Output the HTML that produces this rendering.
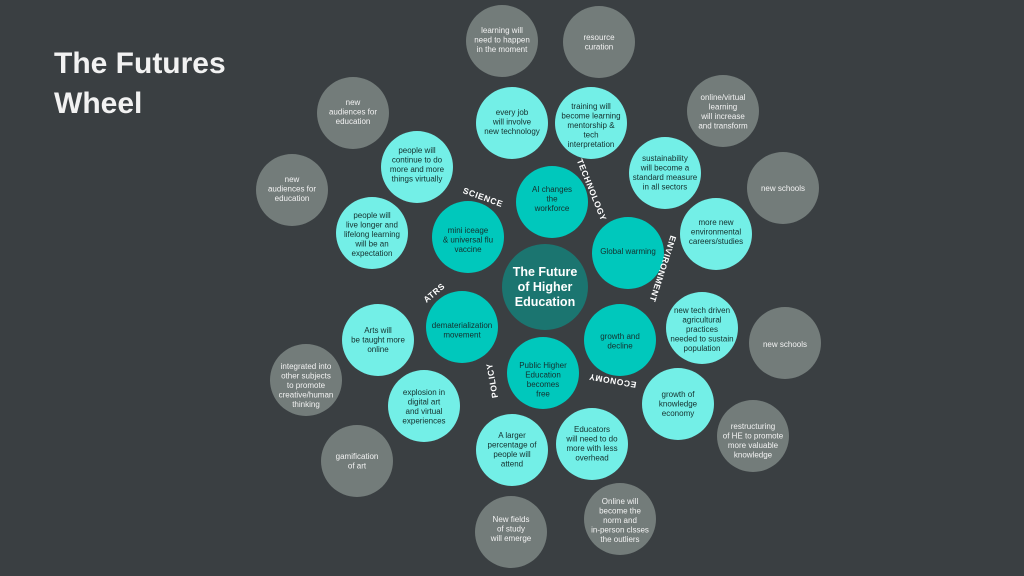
<!DOCTYPE html>
<html><head><meta charset="utf-8"><style>
html,body{margin:0;padding:0;background:#3a3f42;}
svg{display:block}
.g{fill:#737c7a}.c{fill:#73efe7}.t{fill:#00c8bc}
.w{fill:#f2f2f2;font-family:"Liberation Sans",sans-serif;font-size:8px;text-anchor:middle}
.d{fill:#14302e;font-family:"Liberation Sans",sans-serif;font-size:8px;text-anchor:middle}
.lab{fill:#fff;font-family:"Liberation Sans",sans-serif;font-size:8.5px;font-weight:bold;text-anchor:middle;letter-spacing:0.6px}
</style></head><body>
<svg width="1024" height="576" viewBox="0 0 1024 576" xmlns="http://www.w3.org/2000/svg">
<rect width="1024" height="576" fill="#3a3f42"/>
<text x="54" y="73" font-family="Liberation Sans,sans-serif" font-weight="bold" font-size="30" fill="#f2f2f2">The Futures</text>
<text x="54" y="113" font-family="Liberation Sans,sans-serif" font-weight="bold" font-size="30" fill="#f2f2f2">Wheel</text>

<!-- gray outer -->
<circle class="g" cx="502" cy="41" r="36"/>
<text class="w" x="502" y="33">learning will<tspan x="502" dy="9.5">need to happen</tspan><tspan x="502" dy="9.5">in the moment</tspan></text>
<circle class="g" cx="599" cy="42" r="36"/>
<text class="w" x="599" y="40">resource<tspan x="599" dy="9.5">curation</tspan></text>
<circle class="g" cx="723" cy="111" r="36"/>
<text class="w" x="723" y="100">online/virtual<tspan x="723" dy="9.5">learning</tspan><tspan x="723" dy="9.5">will increase</tspan><tspan x="723" dy="9.5">and transform</tspan></text>
<circle class="g" cx="783" cy="188" r="36"/>
<text class="w" x="783" y="191">new schools</text>
<circle class="g" cx="785" cy="343" r="36"/>
<text class="w" x="785" y="347">new schools</text>
<circle class="g" cx="753" cy="436" r="36"/>
<text class="w" x="753" y="429">restructuring<tspan x="753" dy="9.5">of HE to promote</tspan><tspan x="753" dy="9.5">more valuable</tspan><tspan x="753" dy="9.5">knowledge</tspan></text>
<circle class="g" cx="620" cy="519" r="36"/>
<text class="w" x="620" y="504">Online will<tspan x="620" dy="9.5">become the</tspan><tspan x="620" dy="9.5">norm and</tspan><tspan x="620" dy="9.5">in-person clsses</tspan><tspan x="620" dy="9.5">the outliers</tspan></text>
<circle class="g" cx="511" cy="532" r="36"/>
<text class="w" x="511" y="522">New fields<tspan x="511" dy="9.5">of study</tspan><tspan x="511" dy="9.5">will emerge</tspan></text>
<circle class="g" cx="357" cy="461" r="36"/>
<text class="w" x="357" y="459">gamification<tspan x="357" dy="9.5">of art</tspan></text>
<circle class="g" cx="306" cy="380" r="36"/>
<text class="w" x="306" y="369">integrated into<tspan x="306" dy="9.5">other subjects</tspan><tspan x="306" dy="9.5">to promote</tspan><tspan x="306" dy="9.5">creative/human</tspan><tspan x="306" dy="9.5">thinking</tspan></text>
<circle class="g" cx="292" cy="190" r="36"/>
<text class="w" x="292" y="182">new<tspan x="292" dy="9.5">audiences for</tspan><tspan x="292" dy="9.5">education</tspan></text>
<circle class="g" cx="353" cy="113" r="36"/>
<text class="w" x="353" y="105">new<tspan x="353" dy="9.5">audiences for</tspan><tspan x="353" dy="9.5">education</tspan></text>

<!-- light cyan middle -->
<circle class="c" cx="512" cy="123" r="36"/>
<text class="d" x="512" y="115">every job<tspan x="512" dy="9.5">will involve</tspan><tspan x="512" dy="9.5">new technology</tspan></text>
<circle class="c" cx="591" cy="123" r="36"/>
<text class="d" x="591" y="109">training will<tspan x="591" dy="9.5">become learning</tspan><tspan x="591" dy="9.5">mentorship &amp;</tspan><tspan x="591" dy="9.5">tech</tspan><tspan x="591" dy="9.5">interpretation</tspan></text>
<circle class="c" cx="665" cy="173" r="36"/>
<text class="d" x="665" y="161">sustainability<tspan x="665" dy="9.5">will become a</tspan><tspan x="665" dy="9.5">standard measure</tspan><tspan x="665" dy="9.5">in all sectors</tspan></text>
<circle class="c" cx="716" cy="234" r="36"/>
<text class="d" x="716" y="225">more new<tspan x="716" dy="9.5">environmental</tspan><tspan x="716" dy="9.5">careers/studies</tspan></text>
<circle class="c" cx="702" cy="328" r="36"/>
<text class="d" x="702" y="313">new tech driven<tspan x="702" dy="9.5">agricultural</tspan><tspan x="702" dy="9.5">practices</tspan><tspan x="702" dy="9.5">needed to sustain</tspan><tspan x="702" dy="9.5">population</tspan></text>
<circle class="c" cx="678" cy="404" r="36"/>
<text class="d" x="678" y="397">growth of<tspan x="678" dy="9.5">knowledge</tspan><tspan x="678" dy="9.5">economy</tspan></text>
<circle class="c" cx="592" cy="444" r="36"/>
<text class="d" x="592" y="432">Educators<tspan x="592" dy="9.5">will need to do</tspan><tspan x="592" dy="9.5">more with less</tspan><tspan x="592" dy="9.5">overhead</tspan></text>
<circle class="c" cx="512" cy="450" r="36"/>
<text class="d" x="512" y="438">A larger<tspan x="512" dy="9.5">percentage of</tspan><tspan x="512" dy="9.5">people will</tspan><tspan x="512" dy="9.5">attend</tspan></text>
<circle class="c" cx="424" cy="406" r="36"/>
<text class="d" x="424" y="395">explosion in<tspan x="424" dy="9.5">digital art</tspan><tspan x="424" dy="9.5">and virtual</tspan><tspan x="424" dy="9.5">experiences</tspan></text>
<circle class="c" cx="378" cy="340" r="36"/>
<text class="d" x="378" y="333">Arts will<tspan x="378" dy="9.5">be taught more</tspan><tspan x="378" dy="9.5">online</tspan></text>
<circle class="c" cx="372" cy="233" r="36"/>
<text class="d" x="372" y="218">people will<tspan x="372" dy="9.5">live longer and</tspan><tspan x="372" dy="9.5">lifelong learning</tspan><tspan x="372" dy="9.5">will be an</tspan><tspan x="372" dy="9.5">expectation</tspan></text>
<circle class="c" cx="417" cy="167" r="36"/>
<text class="d" x="417" y="153">people will<tspan x="417" dy="9.5">continue to do</tspan><tspan x="417" dy="9.5">more and more</tspan><tspan x="417" dy="9.5">things virtually</tspan></text>

<!-- teal inner -->
<circle class="t" cx="552" cy="202" r="36"/>
<text class="d" x="552" y="192">AI changes<tspan x="552" dy="9.5">the</tspan><tspan x="552" dy="9.5">workforce</tspan></text>
<circle class="t" cx="628" cy="253" r="36"/>
<text class="d" x="628" y="254">Global warming</text>
<circle class="t" cx="620" cy="340" r="36"/>
<text class="d" x="620" y="339">growth and<tspan x="620" dy="9.5">decline</tspan></text>
<circle class="t" cx="543" cy="373" r="36"/>
<text class="d" x="543" y="368">Public Higher<tspan x="543" dy="9.5">Education</tspan><tspan x="543" dy="9.5">becomes</tspan><tspan x="543" dy="9.5">free</tspan></text>
<circle class="t" cx="462" cy="327" r="36"/>
<text class="d" x="462" y="328">dematerialization<tspan x="462" dy="9.5">movement</tspan></text>
<circle class="t" cx="468" cy="237" r="36"/>
<text class="d" x="468" y="233">mini iceage<tspan x="468" dy="9.5">&amp; universal flu</tspan><tspan x="468" dy="9.5">vaccine</tspan></text>

<!-- center -->
<circle cx="545" cy="287" r="43" fill="#1b7570"/>
<text x="545" y="276" fill="#fff" font-family="Liberation Sans,sans-serif" font-weight="bold" font-size="12.5" text-anchor="middle">The Future<tspan x="545" dy="15">of Higher</tspan><tspan x="545" dy="15">Education</tspan></text>

<!-- labels -->
<text class="lab" transform="translate(482,200) rotate(20)">SCIENCE</text>
<text class="lab" transform="translate(589,191) rotate(68)">TECHNOLOGY</text>
<text class="lab" transform="translate(660,268) rotate(108)">ENVIRONMENT</text>
<text class="lab" transform="translate(613,378) rotate(190)">ECONOMY</text>
<text class="lab" transform="translate(495,380) rotate(-100)">POLICY</text>
<text class="lab" transform="translate(436,295) rotate(-40)">ATRS</text>
</svg>
</body></html>
